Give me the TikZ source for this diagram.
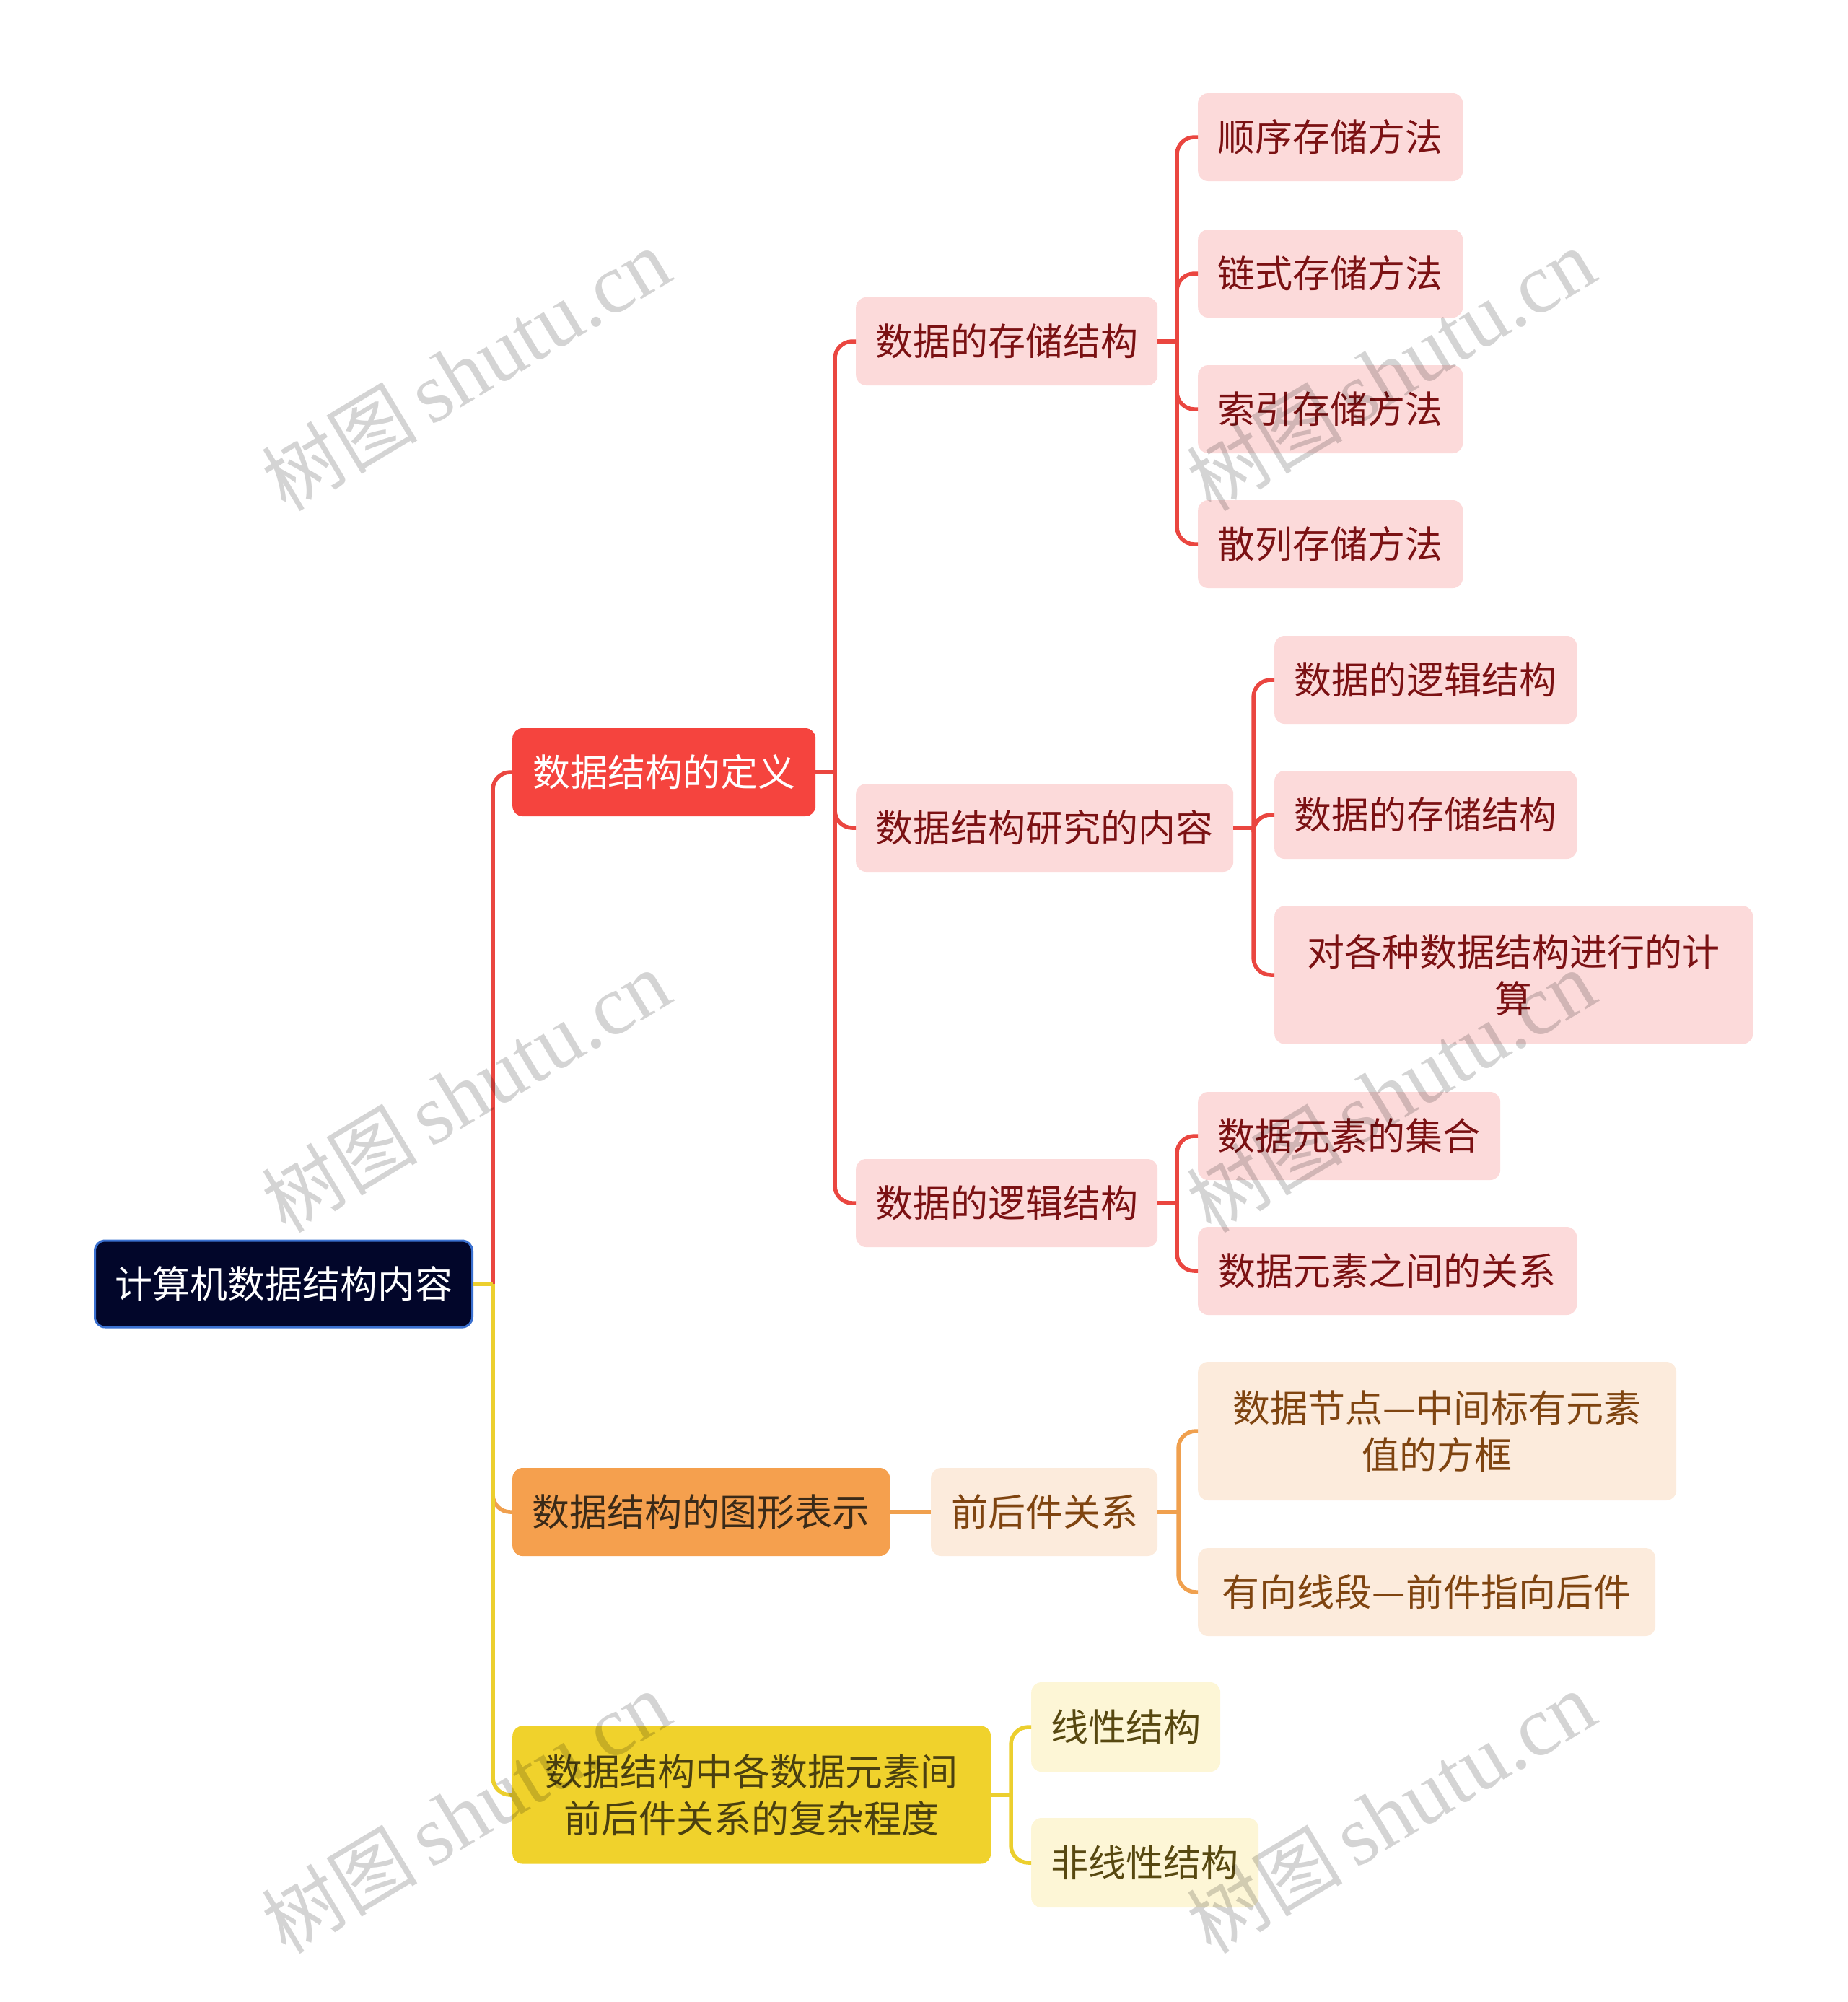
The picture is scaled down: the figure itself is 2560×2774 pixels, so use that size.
\documentclass[tikz,border=0pt]{standalone}
\usepackage{fontspec}
\setmainfont{Noto Sans CJK SC}
\newfontfamily\wmlatin{Liberation Serif}
\definecolor{rootfill}{HTML}{02062A}
\definecolor{rootborder}{HTML}{3A70D0}
\definecolor{redmain}{HTML}{F5443E}
\definecolor{redline}{HTML}{EA4640}
\definecolor{redlight}{HTML}{FCDADA}
\definecolor{redtext}{HTML}{7B1113}
\definecolor{orgmain}{HTML}{F5A04E}
\definecolor{orgline}{HTML}{F0A04E}
\definecolor{orglight}{HTML}{FCEBDC}
\definecolor{orgtext}{HTML}{7F4410}
\definecolor{orgdark}{HTML}{3A2A18}
\definecolor{ylwmain}{HTML}{F0D22C}
\definecolor{ylwline}{HTML}{ECCF2E}
\definecolor{ylwlight}{HTML}{FDF6D6}
\definecolor{ylwtext}{HTML}{574810}
\definecolor{ylwdark}{HTML}{4A4010}
\tikzset{
  box/.style={rectangle, rounded corners=14pt, inner sep=0pt, align=center,
    font=\fontsize{52}{65}\selectfont, anchor=west, minimum height=122pt},
  rootbox/.style={box, fill=rootfill, draw=rootborder, line width=3pt, text=white},
  redbox/.style={box, fill=redmain, text=white},
  redsub/.style={box, fill=redlight, text=redtext},
  orgbox/.style={box, fill=orgmain, text=orgdark},
  orgsub/.style={box, fill=orglight, text=orgtext},
  ylwbox/.style={box, fill=ylwmain, text=ylwdark},
  ylwsub/.style={box, fill=ylwlight, text=ylwtext},
  conn/.style={line width=5.5pt, rounded corners=24pt},
  eR/.style={conn, draw=redline},
  eO/.style={conn, draw=orgline},
  eY/.style={conn, draw=ylwline},
  wm/.style={rotate=31, text=black, opacity=0.17, inner sep=0pt}
}
\begin{document}
\begin{tikzpicture}[x=1pt,y=-1pt]
\useasboundingbox (0,0) rectangle (2560,2774);

% nodes
\node[rootbox, minimum width=523pt, minimum height=120pt] (root) at (130,1779) {计算机数据结构内容};

\node[redbox, minimum width=420pt] (A) at (710,1070) {数据结构的定义};
\node[orgbox, minimum width=523pt] (B) at (710,2095) {数据结构的图形表示};
\node[ylwbox, minimum width=663pt, minimum height=191pt] (C) at (710,2487) {数据结构中各数据元素间\\前后件关系的复杂程度};

\node[redsub, minimum width=418pt] (A1) at (1186,473) {数据的存储结构};
\node[redsub, minimum width=523pt] (A2) at (1186,1147) {数据结构研究的内容};
\node[redsub, minimum width=418pt] (A3) at (1186,1667) {数据的逻辑结构};

\node[redsub, minimum width=367pt] (A1a) at (1660,190) {顺序存储方法};
\node[redsub, minimum width=367pt] (A1b) at (1660,379) {链式存储方法};
\node[redsub, minimum width=367pt] (A1c) at (1660,567) {索引存储方法};
\node[redsub, minimum width=367pt] (A1d) at (1660,754) {散列存储方法};

\node[redsub, minimum width=419pt] (A2a) at (1766,942) {数据的逻辑结构};
\node[redsub, minimum width=419pt] (A2b) at (1766,1129) {数据的存储结构};
\node[redsub, minimum width=663pt, minimum height=191pt] (A2c) at (1766,1351) {对各种数据结构进行的计\\算};

\node[redsub, minimum width=419pt] (A3a) at (1660,1574) {数据元素的集合};
\node[redsub, minimum width=525pt] (A3b) at (1660,1761) {数据元素之间的关系};

\node[orgsub, minimum width=314pt] (B1) at (1290,2095) {前后件关系};
\node[orgsub, minimum width=663pt, minimum height=192pt] (B1a) at (1660,1983) {数据节点—中间标有元素\\值的方框};
\node[orgsub, minimum width=634pt] (B1b) at (1660,2206) {有向线段—前件指向后件};

\node[ylwsub, minimum width=262pt, minimum height=124pt] (C1) at (1429,2393) {线性结构};
\node[ylwsub, minimum width=315pt, minimum height=124pt] (C2) at (1429,2581) {非线性结构};

% junctions
\coordinate (jR) at (683,1779);
\coordinate (jA) at (1157,1070);
\coordinate (jA1) at (1631,473);
\coordinate (jA2) at (1737,1147);
\coordinate (jA3) at (1631,1667);
\coordinate (jB1) at (1633,2095);
\coordinate (jC) at (1401,2487);

% connectors
\draw[eR] (jR) |- (A.west);
\draw[eO] (jR) |- (B.west);
\draw[eY] (jR) |- (C.west);
\draw[eY] (root.east) -- (jR);

\draw[eR] (A.east) -- (jA);
\draw[eR] (jA) |- (A1.west);
\draw[eR] (jA) |- (A2.west);
\draw[eR] (jA) |- (A3.west);

\draw[eR] (A1.east) -- (jA1);
\draw[eR] (jA1) |- (A1a.west);
\draw[eR] (jA1) |- (A1b.west);
\draw[eR] (jA1) |- (A1c.west);
\draw[eR] (jA1) |- (A1d.west);

\draw[eR] (A2.east) -- (jA2);
\draw[eR] (jA2) |- (A2a.west);
\draw[eR] (jA2) |- (A2b.west);
\draw[eR] (jA2) |- (A2c.west);

\draw[eR] (A3.east) -- (jA3);
\draw[eR] (jA3) |- (A3a.west);
\draw[eR] (jA3) |- (A3b.west);

\draw[eO] (B.east) -- (B1.west);
\draw[eO] (B1.east) -- (jB1);
\draw[eO] (jB1) |- (B1a.west);
\draw[eO] (jB1) |- (B1b.west);

\draw[eY] (C.east) -- (jC);
\draw[eY] (jC) |- (C1.west);
\draw[eY] (jC) |- (C2.west);

% watermarks
\foreach \wx/\wy [count=\i] in {646/513, 646/1513, 646/2512, 1928/513, 1928/1513, 1928/2512}{
  \node[wm] (wm\i) at (\wx,\wy) {\fontsize{108}{108}\selectfont 树图\,{\wmlatin\fontsize{118}{118}\selectfont shutu.cn}};
}
\end{tikzpicture}
\end{document}
